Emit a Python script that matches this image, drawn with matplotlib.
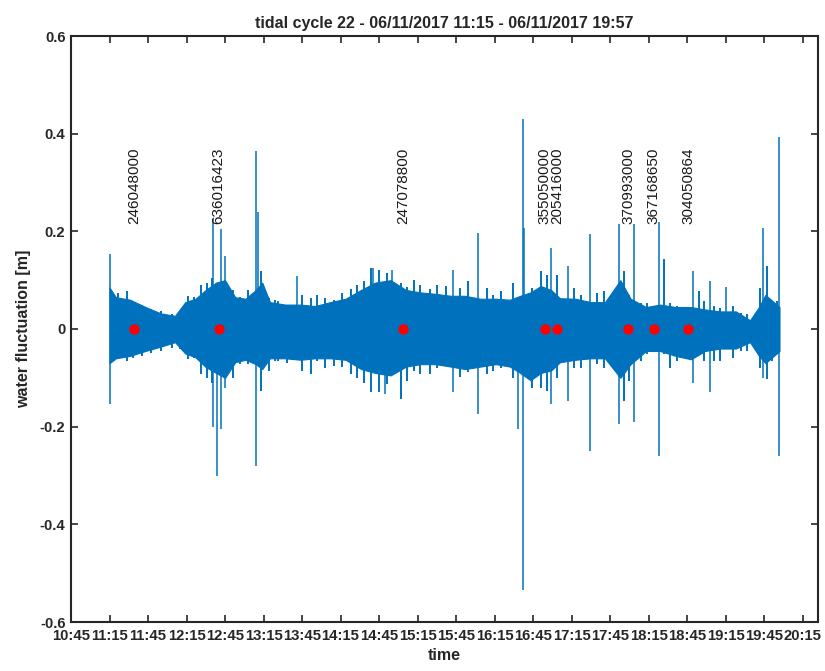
import matplotlib
matplotlib.use("Agg")
import matplotlib.pyplot as plt
from matplotlib.ticker import FixedLocator, FuncFormatter

plt.rcParams['font.family'] = ['Liberation Sans', 'DejaVu Sans']

# ---------------- data ----------------
start_clock = "11:15"          # first sample
end_clock = "19:57"            # last sample

# envelope of the dense signal band: minutes after start, upper / lower [m]
env_offset = [0, 5, 16, 28, 40, 51, 59, 67, 75, 83, 90, 98, 106, 114, 119, 125,
              137, 149, 160, 172, 184, 196, 207, 219, 231, 242, 254, 266, 277,
              289, 301, 312, 320, 328, 336, 344, 351, 363, 375, 386, 398, 406,
              418, 429, 441, 453, 464, 476, 488, 499, 506, 511, 522]
env_upper = [0.085, 0.065, 0.06, 0.045, 0.032, 0.027, 0.055, 0.062, 0.08, 0.095, 0.10,
             0.065, 0.062, 0.08, 0.095, 0.055, 0.05, 0.05, 0.047, 0.055, 0.062, 0.08,
             0.095, 0.10, 0.08, 0.075, 0.072, 0.068, 0.068, 0.062, 0.062, 0.06,
             0.068, 0.075, 0.088, 0.08, 0.063, 0.062, 0.055, 0.055, 0.10, 0.062, 0.045,
             0.05, 0.045, 0.045, 0.04, 0.036, 0.036, 0.018, 0.045, 0.07, 0.045]
env_lower = [-0.07, -0.06, -0.055, -0.045, -0.036, -0.027, -0.05, -0.058, -0.078,
             -0.09, -0.10, -0.068, -0.063, -0.072, -0.082, -0.06, -0.06, -0.063,
             -0.06, -0.06, -0.063, -0.082, -0.09, -0.095, -0.077, -0.072, -0.072,
             -0.077, -0.082, -0.077, -0.072, -0.077, -0.09, -0.105, -0.09, -0.085,
             -0.068, -0.063, -0.06, -0.06, -0.10, -0.072, -0.045, -0.045, -0.055,
             -0.062, -0.045, -0.04, -0.04, -0.027, -0.055, -0.07, -0.045]

# isolated large spikes: minutes after start, max / min [m]
spike_offset = [0, 81, 84, 87, 90, 114, 116, 146, 205, 215, 220, 227, 268, 287,
                318, 322, 323, 344, 357, 374, 397, 409, 428, 455, 468, 480, 509, 522]
spike_high = [0.153, 0.225, 0.0, 0.204, 0.15, 0.364, 0.24, 0.108, 0.125, 0.0,
              0.12, 0.0, 0.12, 0.197, 0.0, 0.431, 0.207, 0.166, 0.13, 0.195,
              0.214, 0.214, 0.22, 0.118, 0.098, 0.085, 0.207, 0.394]
spike_low = [-0.153, -0.20, -0.30, -0.205, -0.12, -0.28, 0.0, 0.0, 0.0, -0.133,
             0.0, -0.143, -0.13, -0.175, -0.205, -0.535, 0.0, -0.153, -0.147,
             -0.25, -0.195, -0.19, -0.26, -0.11, -0.13, 0.0, -0.10, -0.26]

# smaller excursions along the band edges: minutes after start, max / min [m]
minor_offset = [3, 7, 14, 18, 25, 32, 40, 49, 55, 61, 66, 71, 76, 80, 96, 102,
                108, 118, 124, 129, 131, 138, 150, 157, 162, 168, 175, 181, 188,
                193, 198, 204, 210, 216, 227, 232, 237, 242, 250, 255, 262, 273,
                279, 284, 294, 299, 305, 314, 329, 336, 341, 349, 362, 367, 380,
                385, 390, 401, 405, 414, 419, 424, 432, 437, 442, 450, 459, 463,
                471, 476, 486, 492, 497, 502, 507, 512, 516, 520]
minor_high = [0.071, 0.074, 0.078, 0.057, 0.05, 0.04, 0.037, 0.031, 0.035, 0.067,
              0.065, 0.091, 0.094, 0.105, 0.08, 0.065, 0.08, 0.118, 0.064, 0.06,
              0.057, 0.05, 0.07, 0.064, 0.07, 0.064, 0.06, 0.074, 0.081, 0.091,
              0.098, 0.125, 0.12, 0.115, 0.095, 0.085, 0.10, 0.091, 0.081, 0.09,
              0.088, 0.084, 0.098, 0.064, 0.084, 0.07, 0.077, 0.094, 0.084, 0.118,
              0.111, 0.111, 0.084, 0.07, 0.074, 0.077, 0.064, 0.118, 0.07, 0.054,
              0.054, 0.044, 0.143, 0.054, 0.047, 0.03, 0.078, 0.057, 0.047, 0.044,
              0.047, 0.033, 0.03, 0.017, 0.084, 0.13, 0.057, 0.057]
minor_low = [-0.065, -0.06, -0.066, -0.06, -0.055, -0.05, -0.045, -0.038, -0.04,
             -0.062, -0.059, -0.092, -0.10, -0.11, -0.10, -0.072, -0.072, -0.126,
             -0.085, -0.065, -0.065, -0.07, -0.086, -0.092, -0.065, -0.08, -0.075,
             -0.078, -0.092, -0.10, -0.11, -0.13, -0.13, -0.113, -0.143, -0.106,
             -0.086, -0.092, -0.092, -0.08, -0.072, -0.099, -0.088, -0.079, -0.092,
             -0.085, -0.08, -0.10, -0.12, -0.12, -0.126, -0.10, -0.079, -0.079,
             -0.072, -0.079, -0.072, -0.147, -0.106, -0.065, -0.052, -0.045, -0.052,
             -0.079, -0.065, -0.038, -0.052, -0.065, -0.065, -0.065, -0.059, -0.045,
             -0.045, -0.025, -0.079, -0.103, -0.065, -0.052]

# marked events
event_clock = ["11:34", "12:40", "15:04", "16:54", "17:04", "17:59", "18:19", "18:46"]
event_label = ["246048000", "636016423", "247078800", "355050000",
               "205416000", "370993000", "367168650", "304050864"]
event_value = [0, 0, 0, 0, 0, 0, 0, 0]
label_height = 0.215

tick_labels = ["10:45", "11:15", "11:45", "12:15", "12:45", "13:15", "13:45",
               "14:15", "14:45", "15:15", "15:45", "16:15", "16:45", "17:15",
               "17:45", "18:15", "18:45", "19:15", "19:45", "20:15"]
x_limits = ("10:45", "20:27")
y_limits = (-0.6, 0.6)
y_ticks = [-0.6, -0.4, -0.2, 0, 0.2, 0.4, 0.6]


def clock_to_min(s):
    h, m = s.split(":")
    return int(h) * 60 + int(m)


t0 = clock_to_min(start_clock)
env_t = [t0 + o for o in env_offset]
spike_t = [t0 + o for o in spike_offset]
minor_t = [t0 + o for o in minor_offset]
event_t = [clock_to_min(c) for c in event_clock]
tick_pos = [clock_to_min(c) for c in tick_labels]

# ---------------- figure ----------------
blue = '#0072BD'
axc = '#262626'
fig = plt.figure(figsize=(8.25, 6.71), dpi=100)
ax = fig.add_axes([71 / 825, 49 / 671, 747 / 825, 586 / 671])

ax.fill_between(env_t, env_lower, env_upper, color=blue, linewidth=0.8,
                edgecolor=blue, zorder=2)
ax.vlines(minor_t, minor_low, minor_high, color=blue, linewidth=1.4, zorder=2)
ax.vlines(spike_t, spike_low, spike_high, color=blue, linewidth=1.1, zorder=2)
ax.plot(event_t, event_value, 'o', color='red', markersize=7.5,
        markeredgewidth=0, zorder=3)
for t, lab in zip(event_t, event_label):
    ax.text(t, label_height, lab, rotation=90, ha='center', va='bottom',
            fontsize=11, color='#1a1a1a', zorder=4)

ax.set_xlim(clock_to_min(x_limits[0]), clock_to_min(x_limits[1]))
ax.set_ylim(*y_limits)
ax.xaxis.set_major_locator(FixedLocator(tick_pos))
ax.set_xticklabels(tick_labels)
ax.set_yticks(y_ticks)
ax.yaxis.set_major_formatter(FuncFormatter(lambda v, p: "0" if abs(v) < 1e-9 else f"{v:.1f}"))

for sp in ax.spines.values():
    sp.set_linewidth(1.5)
    sp.set_color(axc)
ax.tick_params(direction='in', length=5, width=1.2, color=axc,
               top=True, right=True, labelsize=10.7, labelcolor=axc)
ax.tick_params(axis='x', pad=5)
ax.tick_params(axis='y', pad=4)
for lab in ax.get_xticklabels() + ax.get_yticklabels():
    lab.set_fontweight('bold')

ax.set_xlabel("time", fontsize=11.5, fontweight='bold', color=axc, labelpad=4)
ax.set_ylabel("water fluctuation [m]", fontsize=11.5, fontweight='bold',
              color=axc, labelpad=6)
ax.set_title(f"tidal cycle 22 - 06/11/2017 {start_clock} - 06/11/2017 {end_clock}",
             fontsize=11.5, fontweight='bold', color=axc, pad=6)

fig.savefig("out.png", dpi=100)
